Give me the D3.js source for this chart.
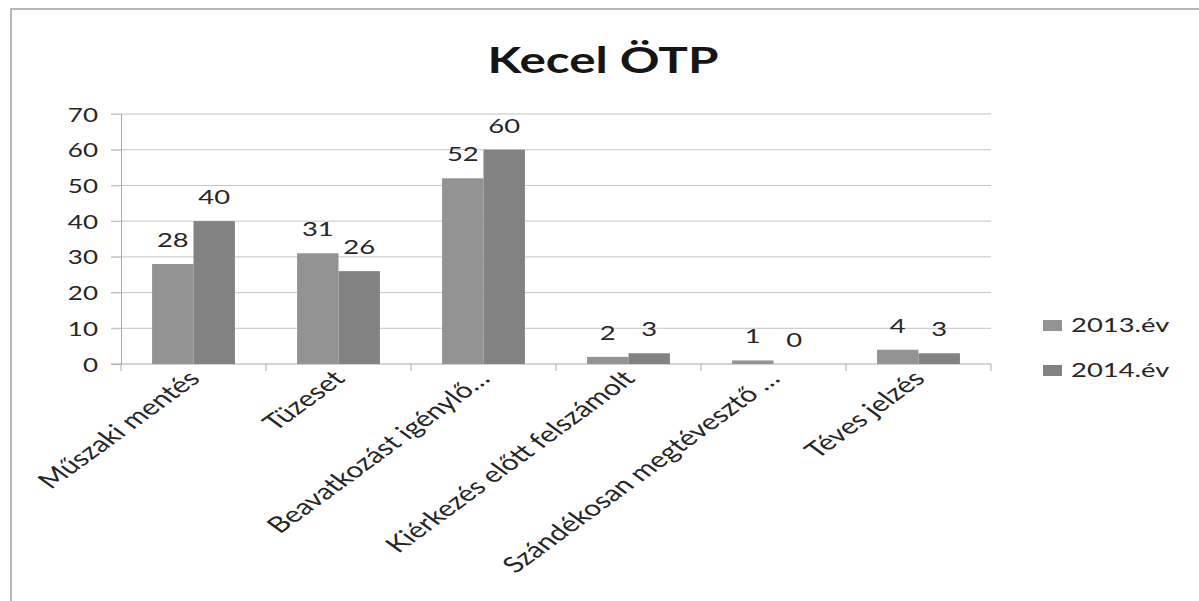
<!DOCTYPE html>
<html>
<head>
<meta charset="utf-8">
<script src="https://cdn.jsdelivr.net/npm/d3@7"></script>
<style>
	body { margin: 0; background: #fff; }
	text { font-family: Lato, "Open Sans", sans-serif; fill: #262626; }
</style>
</head>
<body>
<div class="chart"></div>
<script>

var categories = ["Műszaki mentés", "Tüzeset", "Beavatkozást igénylő…", "Kiérkezés előtt felszámolt", "Szándékosan megtévesztő …", "Téves jelzés"];
var seriesNames = ["2013.év", "2014.év"];
var values2013 = [28, 31, 52, 2, 1, 4];
var values2014 = [40, 26, 60, 3, 0, 3];
var yTicks = [0, 10, 20, 30, 40, 50, 60, 70];
var colors = ["#939393", "#828282"];

var w = 1199;
var h = 601;
// the scan is stretched sideways, so text gets the same stretch
var sx = 1.37;

var svg = d3.select(".chart")
	.append("svg")
	.attr("width", w)
	.attr("height", h);

// outer frame of the chart area
svg.append("path")
	.attr("d", "M11," + h + "V9H" + w)
	.attr("fill", "none")
	.attr("stroke", "#a0a0a0")
	.attr("stroke-width", 1.5);

svg.append("text")
	.attr("transform", "translate(603,73) scale(" + sx + ",1)")
	.attr("text-anchor", "middle")
	.style("font-size", "36px")
	.style("font-weight", "bold")
	.style("fill", "#151515")
	.text("Kecel ÖTP");

var x0 = d3.scaleBand()
	.domain(categories)
	.range([121, 991])
	.padding(0);

var x1 = d3.scaleBand()
	.domain(seriesNames)
	.range([0, x0.bandwidth()])
	.paddingInner(0)
	.paddingOuter(0.75);

var y = d3.scaleLinear()
	.domain([0, 70])
	.range([364, 114]);

// gridlines
svg.append("g")
	.selectAll("line")
	.data(yTicks.slice(1))
	.enter()
	.append("line")
	.attr("x1", 111)
	.attr("x2", 991)
	.attr("y1", d => y(d))
	.attr("y2", d => y(d))
	.attr("stroke", "#c4c4c4")
	.attr("stroke-width", 1);

// y axis
var yAxis = d3.axisLeft(y)
	.tickValues(yTicks)
	.tickSize(10)
	.tickPadding(12)
	.tickFormat(d3.format("d"));

var yG = svg.append("g")
	.attr("transform", "translate(121,0)")
	.call(yAxis);
yG.select(".domain").attr("stroke", "#a8a8a8");
yG.selectAll(".tick line").attr("stroke", "#c4c4c4");
yG.selectAll(".tick text")
	.attr("x", null)
	.attr("dy", null)
	.attr("transform", "translate(-23,7) scale(" + sx + ",1)")
	.style("font-size", "19px")
	.style("font-family", "Lato, sans-serif")
	.style("fill", "#262626");

// x axis line with ticks at category borders
svg.append("line")
	.attr("x1", 111)
	.attr("x2", 991)
	.attr("y1", y(0))
	.attr("y2", y(0))
	.attr("stroke", "#a8a8a8");

var borders = categories.map(c => x0(c)).concat([x0.range()[1]]);
svg.append("g")
	.selectAll("line")
	.data(borders)
	.enter()
	.append("line")
	.attr("x1", d => d)
	.attr("x2", d => d)
	.attr("y1", y(0))
	.attr("y2", y(0) + 7)
	.attr("stroke", "#a8a8a8");

var rows = categories.map(function (c, i) {
	return { cat: c, vals: [values2013[i], values2014[i]] };
});

var groups = svg.append("g")
	.selectAll("g")
	.data(rows)
	.enter()
	.append("g")
	.attr("transform", d => "translate(" + x0(d.cat) + ",0)");

groups.selectAll("rect")
	.data(d => d.vals.map((v, j) => ({ s: seriesNames[j], v: v, j: j })))
	.enter()
	.append("rect")
	.attr("x", d => x1(d.s))
	.attr("y", d => y(d.v))
	.attr("width", x1.bandwidth())
	.attr("height", d => y(0) - y(d.v))
	.attr("fill", d => colors[d.j]);

groups.selectAll(".lbl")
	.data(d => d.vals.map((v, j) => ({ s: seriesNames[j], v: v })))
	.enter()
	.append("text")
	.attr("class", "lbl")
	.attr("transform", d => "translate(" + (x1(d.s) + x1.bandwidth() / 2) + "," + (y(d.v) - 17) + ") scale(" + sx + ",1)")
	.attr("text-anchor", "middle")
	.style("font-size", "20px")
	.text(d => d.v);

// category labels
svg.append("g")
	.selectAll("text")
	.data(categories)
	.enter()
	.append("text")
	.attr("transform", d => "translate(" + (x0(d) + x0.bandwidth() / 2 + 8) + ",380) scale(" + sx + ",1) rotate(-45)")
	.attr("text-anchor", "end")
	.style("font-size", "22px")
	.text(d => d);

// legend
var legend = svg.append("g")
	.selectAll("g")
	.data(seriesNames)
	.enter()
	.append("g")
	.attr("transform", (d, i) => "translate(1043," + (320 + i * 45) + ")");

legend.append("rect")
	.attr("width", 19)
	.attr("height", 11)
	.attr("fill", (d, i) => colors[i]);

legend.append("text")
	.attr("transform", "translate(28,12) scale(" + sx + ",1)")
	.style("font-size", "20px")
	.text(d => d);

</script>
</body>
</html>
